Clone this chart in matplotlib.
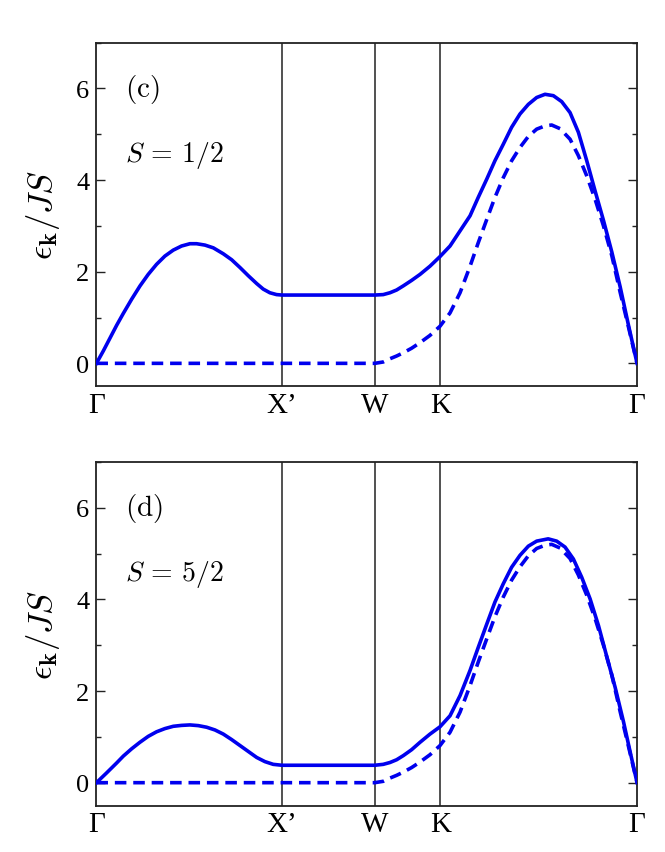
import matplotlib
matplotlib.use("Agg")
import matplotlib.pyplot as plt
from matplotlib.ticker import MultipleLocator

plt.rcParams['mathtext.fontset'] = 'cm'
plt.rcParams['font.family'] = ['Liberation Serif', 'DejaVu Serif']

# High-symmetry path positions
path_labels = ['Γ', "X’", 'W', 'K', 'Γ']
path_pos = [0.0, 1.0, 1.5, 1.8536, 2.9142]

# Panel (c), S = 1/2 : solid curve
c_solid_x = [0.0, 0.037, 0.073, 0.109, 0.145, 0.190, 0.235, 0.279, 0.324, 0.369, 0.414,
             0.459, 0.504, 0.540, 0.585, 0.630, 0.684, 0.729, 0.774, 0.819, 0.864, 0.899,
             0.935, 0.971, 1.0, 1.5, 1.546, 1.582, 1.618, 1.654, 1.699, 1.744, 1.798,
             1.852, 1.906, 1.960, 2.014, 2.058, 2.104, 2.148, 2.193, 2.238, 2.283, 2.328,
             2.373, 2.418, 2.463, 2.508, 2.553, 2.598, 2.643, 2.688, 2.733, 2.778, 2.823,
             2.868, 2.9142]
c_solid_y = [0.0, 0.27, 0.55, 0.83, 1.09, 1.40, 1.69, 1.94, 2.16, 2.34, 2.47,
             2.56, 2.61, 2.61, 2.58, 2.52, 2.39, 2.26, 2.09, 1.91, 1.74, 1.62,
             1.54, 1.50, 1.49, 1.49, 1.50, 1.54, 1.60, 1.69, 1.81, 1.94, 2.12,
             2.33, 2.56, 2.89, 3.22, 3.62, 4.02, 4.42, 4.78, 5.15, 5.44, 5.65,
             5.80, 5.87, 5.84, 5.71, 5.47, 5.04, 4.42, 3.76, 3.12, 2.43, 1.67,
             0.83, 0.0]

# Classical (dashed) curve, same in both panels
dash_x = [0.0, 1.5, 1.546, 1.582, 1.618, 1.654, 1.699, 1.744, 1.798, 1.852, 1.906,
          1.960, 2.014, 2.058, 2.104, 2.148, 2.193, 2.238, 2.283, 2.328, 2.373, 2.418,
          2.454, 2.499, 2.553, 2.598, 2.643, 2.688, 2.733, 2.778, 2.823, 2.868, 2.9142]
dash_y = [0.0, 0.0, 0.03, 0.10, 0.16, 0.23, 0.33, 0.45, 0.61, 0.81, 1.10,
          1.54, 2.12, 2.63, 3.14, 3.62, 4.05, 4.42, 4.71, 4.95, 5.11, 5.18,
          5.20, 5.12, 4.89, 4.53, 4.09, 3.58, 3.00, 2.35, 1.55, 0.79, 0.0]

# Panel (d), S = 5/2 : solid curve
d_solid_x = [0.0, 0.054, 0.109, 0.145, 0.190, 0.234, 0.279, 0.324, 0.369, 0.414, 0.459,
             0.504, 0.549, 0.594, 0.639, 0.684, 0.729, 0.774, 0.819, 0.864, 0.908, 0.953,
             1.0, 1.5, 1.546, 1.582, 1.618, 1.654, 1.699, 1.744, 1.798, 1.852, 1.906,
             1.960, 2.014, 2.058, 2.104, 2.148, 2.193, 2.238, 2.283, 2.328, 2.373, 2.435,
             2.481, 2.526, 2.571, 2.616, 2.661, 2.706, 2.751, 2.796, 2.841, 2.877, 2.9142]
d_solid_y = [0.0, 0.21, 0.43, 0.58, 0.74, 0.88, 1.01, 1.11, 1.18, 1.23, 1.25,
             1.26, 1.245, 1.21, 1.15, 1.06, 0.94, 0.81, 0.68, 0.55, 0.46, 0.40,
             0.38, 0.38, 0.40, 0.44, 0.50, 0.59, 0.72, 0.88, 1.06, 1.22, 1.46,
             1.90, 2.45, 2.95, 3.46, 3.94, 4.34, 4.70, 4.96, 5.16, 5.27, 5.32,
             5.27, 5.14, 4.88, 4.48, 4.01, 3.43, 2.75, 2.08, 1.33, 0.67, 0.0]

panels = [
    ('c', r'$S\,=\,1/2$', c_solid_x, c_solid_y),
    ('d', r'$S\,=\,5/2$', d_solid_x, d_solid_y),
]

fig = plt.figure(figsize=(6.65, 8.53), dpi=100)
ax_rects = [[0.145, 0.546, 0.813, 0.403], [0.145, 0.0544, 0.813, 0.403]]

blue = '#0000ee'
for rect, (tag, slab, sx, sy) in zip(ax_rects, panels):
    ax = fig.add_axes(rect)
    for p in path_pos[1:-1]:
        ax.axvline(p, color='#222222', lw=1.1, zorder=1)
    ax.plot(dash_x, dash_y, color=blue, lw=2.6, ls=(0, (3.2, 1.9)), zorder=3)
    ax.plot(sx, sy, color=blue, lw=2.6, zorder=4, solid_joinstyle='round')
    ax.set_xlim(path_pos[0], path_pos[-1])
    ax.set_ylim(-0.5, 7.0)
    ax.set_xticks(path_pos)
    ax.set_xticklabels(path_labels, fontsize=21)
    ax.tick_params(axis='x', length=0, pad=4)
    ax.yaxis.set_major_locator(MultipleLocator(2))
    ax.yaxis.set_minor_locator(MultipleLocator(1))
    ax.tick_params(axis='y', which='both', direction='in', left=True, right=True,
                   labelsize=19, width=1.0, color='#222222')
    ax.tick_params(axis='y', which='major', length=6.5, pad=5)
    ax.tick_params(axis='y', which='minor', length=3.6)
    for s in ax.spines.values():
        s.set_linewidth(1.3)
        s.set_color('#222222')
    ax.set_ylabel(r'$\epsilon_{\mathbf{k}}/JS$', fontsize=25, labelpad=10)
    ax.text(0.152, 6.0, r'$\mathrm{(%s)}$' % tag, fontsize=21, va='center', ha='left')
    ax.text(0.152, 4.56, slab, fontsize=20, va='center', ha='left')

fig.savefig('out.png', dpi=100)
